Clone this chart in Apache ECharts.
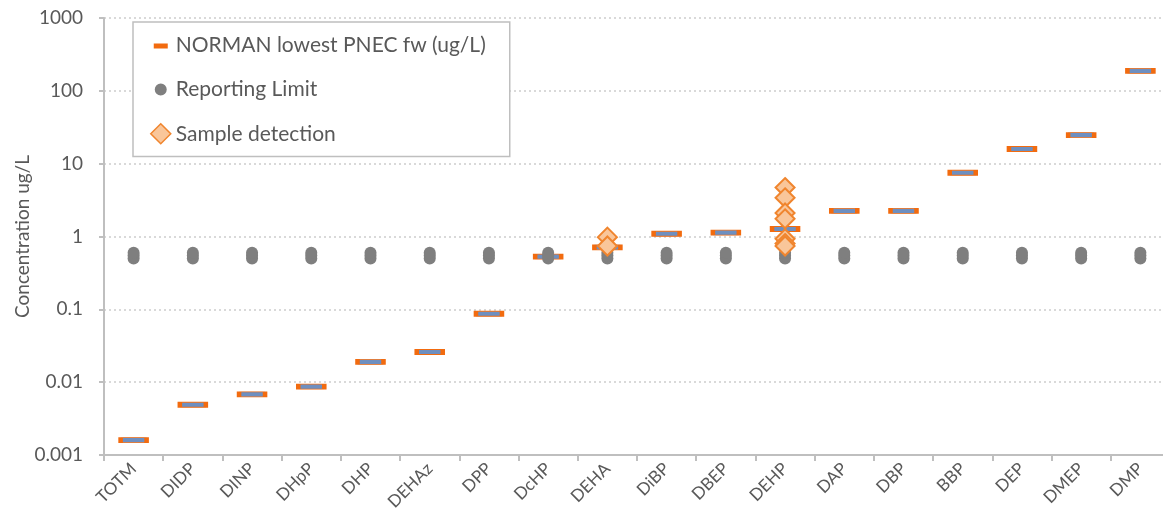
<!DOCTYPE html>
<html>
<head>
<meta charset="utf-8">
<script src="https://cdn.jsdelivr.net/npm/echarts@6/dist/echarts.min.js"></script>
<style>
  html, body { margin: 0; padding: 0; background: #fff; }
  #chart { width: 1163px; height: 529px; }
</style>
</head>
<body>
<div id="chart"></div>
<script>
var categories = ['TOTM', 'DIDP', 'DINP', 'DHpP', 'DHP', 'DEHAz', 'DPP', 'DcHP', 'DEHA', 'DiBP', 'DBEP', 'DEHP', 'DAP', 'DBP', 'BBP', 'DEP', 'DMEP', 'DMP'];
var pnec = [0.0016, 0.0049, 0.0068, 0.0087, 0.019, 0.026, 0.087, 0.53, 0.71, 1.09, 1.13, 1.27, 2.25, 2.25, 7.5, 15.9, 24.7, 188];
// reporting limits per compound (several samples, stacked)
var rlLow = [0.5, 0.5, 0.5, 0.5, 0.5, 0.5, 0.5, 0.5, 0.5, 0.5, 0.5, 0.5, 0.5, 0.5, 0.5, 0.5, 0.5, 0.5];
var rlMid = [0.55, 0.55, 0.55, 0.55, 0.55, 0.55, 0.55, 0.55, 0.55, 0.55, 0.55, 0.55, 0.55, 0.55, 0.55, 0.55, 0.55, 0.55];
var rlHigh = [0.6, 0.6, 0.6, 0.6, 0.6, 0.6, 0.6, 0.6, 0.6, 0.6, 0.6, 0.6, 0.6, 0.6, 0.6, 0.6, 0.6, 0.6];
var detectCats = ['DEHA', 'DEHA', 'DEHP', 'DEHP', 'DEHP', 'DEHP', 'DEHP', 'DEHP', 'DEHP'];
var detectValues = [0.98, 0.74, 4.7, 3.4, 2.1, 1.75, 0.93, 0.8, 0.74];

(function() {
  var ink = '#595959';
  var rule = '#bfbfbf';
  var orange = '#f26b0f';
  var font = 'Lato, "Open Sans", sans-serif';

  var rlData = [];
  categories.forEach(function(c, i) {
    rlData.push([c, rlLow[i]]);
    rlData.push([c, rlMid[i]]);
    rlData.push([c, rlHigh[i]]);
  });
  var detectData = detectCats.map(function(c, i) { return [c, detectValues[i]]; });

  var chart = echarts.init(document.getElementById('chart'), null, { renderer: 'canvas' });
  chart.setOption({
    animation: false,
    textStyle: { fontFamily: font },
    grid: { left: 104, right: -7, top: 18, bottom: 74, outerBoundsMode: 'none' },
    legend: {
      orient: 'vertical',
      left: 133,
      top: 22,
      padding: [13, 24, 12, 17],
      itemWidth: 20,
      itemHeight: 20,
      itemGap: 23,
      borderColor: rule,
      borderWidth: 1.5,
      backgroundColor: '#fff',
      textStyle: { color: ink, fontSize: 21, fontFamily: font },
      data: [
        { name: 'NORMAN lowest PNEC fw (ug/L)', icon: 'path://M0,0L0.01,0ZM3,8H17V13H3ZM20,20L19.99,20Z', itemStyle: { color: orange, borderWidth: 0 } },
        { name: 'Reporting Limit', icon: 'path://M0,0L0.01,0ZM10,4A6,6 0 1,1 9.99,4ZM20,20L19.99,20Z', itemStyle: { color: '#7f7f7f', borderWidth: 0 } },
        { name: 'Sample detection', icon: 'diamond', itemStyle: { color: '#f9c69a', borderColor: '#f0852e', borderWidth: 1.5 } }
      ]
    },
    xAxis: {
      type: 'category',
      data: categories,
      axisLine: { lineStyle: { color: rule, width: 2 } },
      axisTick: { show: true, length: 6, lineStyle: { color: rule, width: 2 } },
      axisLabel: { color: ink, fontSize: 17, rotate: 45, interval: 0, margin: 11 },
      splitLine: { show: false }
    },
    yAxis: {
      type: 'log',
      logBase: 10,
      min: 0.001,
      max: 1000,
      name: 'Concentration ug/L',
      nameLocation: 'middle',
      nameGap: 72,
      nameMoveOverlap: false,
      nameTextStyle: { color: ink, fontSize: 19 },
      axisLine: { show: true, lineStyle: { color: rule, width: 2 } },
      axisTick: { show: true, length: 5, lineStyle: { color: rule, width: 2 } },
      axisLabel: {
        color: ink, fontSize: 19, margin: 21,
        formatter: function(v) { return String(+(+v).toPrecision(3)); }
      },
      splitLine: { lineStyle: { color: '#d9d9d9', width: 2, type: [2, 3] } }
    },
    series: [
      {
        name: 'NORMAN lowest PNEC fw (ug/L)',
        type: 'scatter',
        symbol: 'rect',
        symbolSize: [26, 5],
        z: 2,
        itemStyle: { color: '#6e8fc0', borderColor: orange, borderWidth: 2, opacity: 1 },
        data: categories.map(function(c, i) { return [c, pnec[i]]; })
      },
      {
        name: 'Reporting Limit',
        type: 'scatter',
        symbol: 'circle',
        symbolSize: 12,
        z: 3,
        itemStyle: { color: '#7f7f7f', opacity: 1 },
        data: rlData
      },
      {
        name: 'Sample detection',
        type: 'scatter',
        symbol: 'diamond',
        symbolSize: 19,
        z: 4,
        itemStyle: { color: '#f9c69a', borderColor: '#f0852e', borderWidth: 2, opacity: 1 },
        data: detectData
      }
    ]
  });
  window.addEventListener('resize', function() { chart.resize(); });
})();
</script>
</body>
</html>
